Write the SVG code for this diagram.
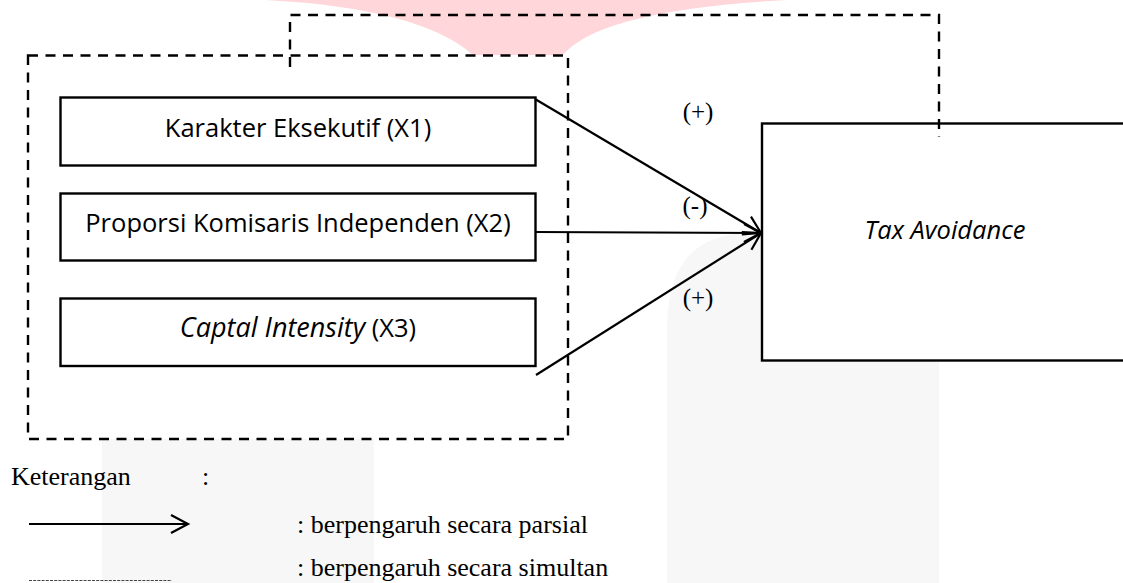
<svg xmlns="http://www.w3.org/2000/svg" width="1123" height="583" viewBox="0 0 1123 583">
  <defs>
    <marker id="openArrow" markerUnits="userSpaceOnUse" markerWidth="22" markerHeight="22" refX="18" refY="9" orient="auto" viewBox="0 0 22 18">
      <path d="M1,0 L18,9 L1,18" fill="none" stroke="#000" stroke-width="2.2"/>
    </marker>
    <style>
      .box { fill: #fff; stroke: #000; stroke-width: 2.4; }
      .dash { fill: none; stroke: #000; stroke-width: 2.4; stroke-dasharray: 10 7.5; }
      .conn { fill: none; stroke: #000; stroke-width: 2.2; }
      .lbl { font-family: "Open Sans", "Noto Sans", sans-serif; font-size: 25.5px; fill: #000; text-anchor: middle; }
      .serif { font-family: "Liberation Serif", "Times New Roman", serif; font-size: 26px; fill: #000; }
      .sign { font-family: "Liberation Serif", "Times New Roman", serif; font-size: 25px; fill: #000; text-anchor: middle; }
    </style>
  </defs>
  <rect width="1123" height="583" fill="#fff"/>
  <!-- watermark -->
  <g id="watermark">
    <path d="M265 0 Q420 8 473 55 H563 Q600 10 788 0 Z" fill="#ffd6da"/>
    <path d="M667 583 V330 C667 270 690 236 745 233 H939 V583 Z" fill="#f7f7f7"/>
    <rect x="102" y="439" width="272" height="144" fill="#f7f7f7"/>
  </g>
  <!-- simultaneous group -->
  <g id="group-x">
    <rect x="28" y="55.5" width="540" height="383.5" fill="#fff" class="dash"/>
  </g>
  <g id="node-x1">
    <rect class="box" x="60.5" y="97.5" width="475" height="68"/>
    <text class="lbl" x="298" y="137">Karakter Eksekutif (X1)</text>
  </g>
  <g id="node-x2">
    <rect class="box" x="60.5" y="193.5" width="475" height="67"/>
    <text class="lbl" x="298" y="232">Proporsi Komisaris Independen (X2)</text>
  </g>
  <g id="node-x3">
    <rect class="box" x="60.5" y="298.5" width="475" height="67.5"/>
    <text class="lbl" x="298" y="337"><tspan font-style="italic" font-size="27px">Captal Intensity</tspan> (X3)</text>
  </g>
  <g id="node-y">
    <rect class="box" x="762" y="123.5" width="380" height="237"/>
    <text class="lbl" x="945" y="239" font-style="italic" font-size="26.5px">Tax Avoidance</text>
  </g>
  <g id="connectors">
    <path class="dash" d="M290 67 V15 H939 V137"/>
    <line class="conn" x1="535" y1="99" x2="761" y2="233" marker-end="url(#openArrow)"/>
    <line class="conn" x1="535" y1="232" x2="761" y2="233" marker-end="url(#openArrow)"/>
    <line class="conn" x1="536" y1="375" x2="761" y2="233" marker-end="url(#openArrow)"/>
    <text class="sign" x="698" y="120">(+)</text>
    <text class="sign" x="695" y="214">(-)</text>
    <text class="sign" x="698" y="306">(+)</text>
  </g>
  <g id="legend">
    <text class="serif" x="11" y="485">Keterangan</text>
    <text class="serif" x="202" y="485">:</text>
    <line class="conn" x1="29" y1="524" x2="188" y2="524" marker-end="url(#openArrow)"/>
    <text class="serif" x="297" y="533">: berpengaruh secara parsial</text>
    <line x1="29" y1="580.5" x2="172" y2="580.5" stroke="#444" stroke-width="1" stroke-dasharray="3 1.2"/>
    <text class="serif" x="297" y="576">: berpengaruh secara simultan</text>
  </g>
</svg>
